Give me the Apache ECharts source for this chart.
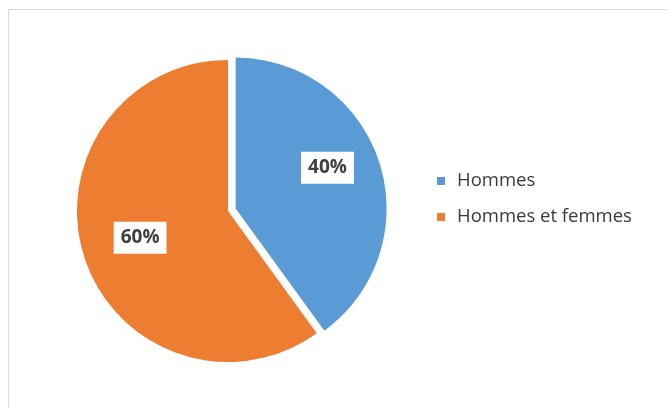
<!DOCTYPE html>
<html>
<head>
<meta charset="utf-8">
<script src="https://cdn.jsdelivr.net/npm/echarts@6/dist/echarts.min.js"></script>
<style>
  html, body { margin: 0; padding: 0; background: #fff; }
  #chart { width: 668px; height: 408px; }
</style>
</head>
<body>
<div id="chart"></div>
<script>
// Répartition des répondants
const categories = ['Hommes', 'Hommes et femmes'];
const values = [40, 60];
const colors = ['#5b9bd5', '#ed7d31'];

const chart = echarts.init(document.getElementById('chart'), null, { renderer: 'canvas' });

const pieCenter = [228, 211];
const pieRadius = 151;

const sliceData = categories.map((name, i) => ({
  name,
  value: values[i],
  selected: i === 0,
  itemStyle: { color: colors[i] }
}));

// Same slices, drawn transparent, only to carry the percentage labels
const labelData = categories.map((name, i) => ({
  name,
  value: values[i],
  selected: i === 0
}));
// small nudges of the percentage boxes; the pulled-out slice's sits higher
const labelNudges = [[0, -11], [4, -3]];

chart.setOption({
  animation: false,
  graphic: [{
    type: 'rect',
    silent: true,
    shape: { x: 8.5, y: 9.5, width: 700, height: 500 },
    style: { fill: 'none', stroke: '#d9d9d9', lineWidth: 1 }
  }],
  legend: {
    orient: 'vertical',
    left: 437,
    top: 171,
    padding: 0,
    itemWidth: 8,
    itemHeight: 8,
    itemGap: 16,
    icon: 'rect',
    data: categories,
    selectedMode: false,
    textStyle: {
      fontFamily: 'Open Sans',
      fontSize: 18.5,
      lineHeight: 20,
      color: '#3a3a3a',
      padding: [0, 0, 0, 7]
    }
  },
  series: [
    {
      type: 'pie',
      center: pieCenter,
      radius: [0, pieRadius],
      startAngle: 90,
      clockwise: true,
      selectedMode: 'single',
      selectedOffset: 8,
      silent: true,
      label: { show: false },
      labelLine: { show: false },
      itemStyle: { borderWidth: 0 },
      data: sliceData
    },
    {
      type: 'pie',
      center: pieCenter,
      radius: [pieRadius * 0.24, pieRadius],
      startAngle: 90,
      clockwise: true,
      selectedMode: 'single',
      selectedOffset: 8,
      silent: true,
      legendHoverLink: false,
      itemStyle: { color: 'rgba(0,0,0,0)', borderWidth: 0 },
      label: {
        show: true,
        position: 'inside',
        formatter: p => p.value + '%',
        fontFamily: 'Open Sans',
        fontWeight: 'bold',
        fontSize: 19,
        lineHeight: 20,
        color: '#404040',
        backgroundColor: '#ffffff',
        padding: [6, 7, 6, 7]
      },
      labelLayout: p => ({ dx: labelNudges[p.dataIndex][0], dy: labelNudges[p.dataIndex][1] }),
      labelLine: { show: false },
      data: labelData
    }
  ]
});
</script>
</body>
</html>
